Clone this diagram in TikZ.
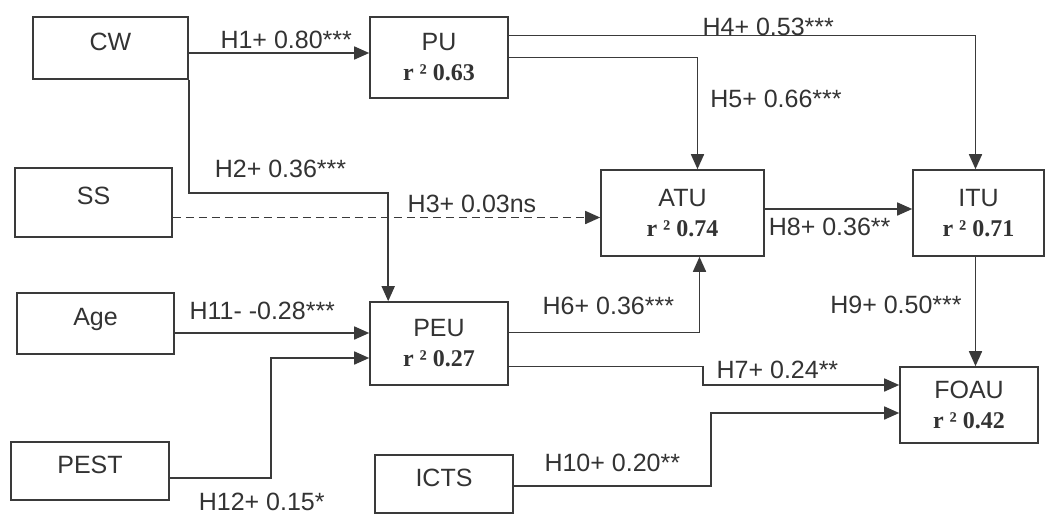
\documentclass[tikz,border=0pt]{standalone}
\usepackage{fontspec}
\setmainfont{Liberation Serif}
\setsansfont{Liberation Sans}
\usetikzlibrary{arrows.meta}
\definecolor{ink}{HTML}{3A3A3A}
\definecolor{txt}{HTML}{333333}
\newcommand{\rsq}[1]{{\rmfamily\bfseries\fontsize{24}{30}\selectfont r ² #1}}

\begin{document}
\begin{tikzpicture}[
  x=1pt, y=-1pt,
  every node/.style={font=\sffamily\fontsize{25}{30}\selectfont,text=txt,inner sep=2pt},
  box/.style 2 args={draw=ink,line width=1.6pt,minimum width=#1,minimum height=#2,align=center},
  single/.style={text height=18pt,text depth=14pt},
  arrow/.style={draw=ink,line width=1.6pt,-{Triangle[length=15pt,width=13pt]}},
  nsline/.style={dash pattern=on 8pt off 5pt}
]
\path[use as bounding box,fill=white] (0,0) rectangle (1045,514);

% constructs
\node[box={155pt}{62pt},single] (CW) at (110.5,48) {CW};
\node[box={138pt}{81pt}] (PU) at (439,57.5) {PU\\\rsq{0.63}};
\node[box={157pt}{69pt},single] (SS) at (93.5,202.5) {SS};
\node[box={163pt}{86pt}] (ATU) at (682.5,213) {ATU\\\rsq{0.74}};
\node[box={131pt}{86pt}] (ITU) at (978.5,213) {ITU\\\rsq{0.71}};
\node[box={157pt}{61pt},single] (Age) at (95.5,323.5) {Age};
\node[box={138pt}{83pt}] (PEU) at (439,343.5) {PEU\\\rsq{0.27}};
\node[box={158pt}{58pt},single] (PEST) at (90,471) {PEST};
\node[box={138pt}{58pt},single] (ICTS) at (444,484) {ICTS};
\node[box={138pt}{76pt}] (FOAU) at (969,405) {FOAU\\\rsq{0.42}};

% paths
\draw[arrow] ([yshift=-5pt]CW.east) -- node[pos=0.54,above=1pt] {H1+ 0.80***} ([yshift=-5pt]CW.east -| PU.west);
\draw[arrow] (CW.south east) -- ++(0,113) -| node[pos=0.23,above=12pt] {H2+ 0.36***} ([xshift=19pt]PEU.north west);
\draw[arrow,nsline] ([yshift=-15pt]SS.east) -- node[pos=0.70,above=2pt] {H3+ 0.03ns} ([yshift=-15pt]SS.east -| ATU.west);
\draw[arrow] ([yshift=22pt]PU.east) -| node[pos=0.278,above=-1pt,inner sep=0pt] {H4+ 0.53***} ([xshift=-3pt]ITU.north);
\draw[arrow] (PU.east) -| node[pos=0.684,right=10pt] {H5+ 0.66***} ([xshift=15pt]ATU.north);
\draw[arrow] ([yshift=11pt]PEU.east) -| node[pos=0.261,above=15pt] {H6+ 0.36***} ([xshift=17pt]ATU.south);
\draw[arrow] ([yshift=-23pt]PEU.east) -- ++(194,0) |- node[pos=0.69,above=3pt] {H7+ 0.24**} ([yshift=20pt]FOAU.west);
\draw[arrow] ([yshift=4pt]ATU.east) -- node[pos=0.44,below=6pt] {H8+ 0.36**} ([yshift=4pt]ATU.east -| ITU.west);
\draw[arrow] ([xshift=-3pt]ITU.south) -- node[pos=0.44,left=11pt] {H9+ 0.50***} ([xshift=-3pt]ITU.south |- FOAU.north);
\draw[arrow] ([yshift=-2pt]ICTS.east) -- node[pos=0.5,above=11pt] {H10+ 0.20**} ++(197,0) |- ([yshift=-8pt]FOAU.west);
\draw[arrow] ([yshift=-9.5pt]Age.east) -- node[pos=0.45,above=10pt] {H11- -0.28***} ([yshift=-9.5pt]Age.east -| PEU.west);
\draw[arrow] ([yshift=-7pt]PEST.east) -- node[pos=0.91,below=14pt,inner sep=0pt] {H12+ 0.15*} ++(101,0) |- ([yshift=-14.5pt]PEU.west);
\end{tikzpicture}
\end{document}
